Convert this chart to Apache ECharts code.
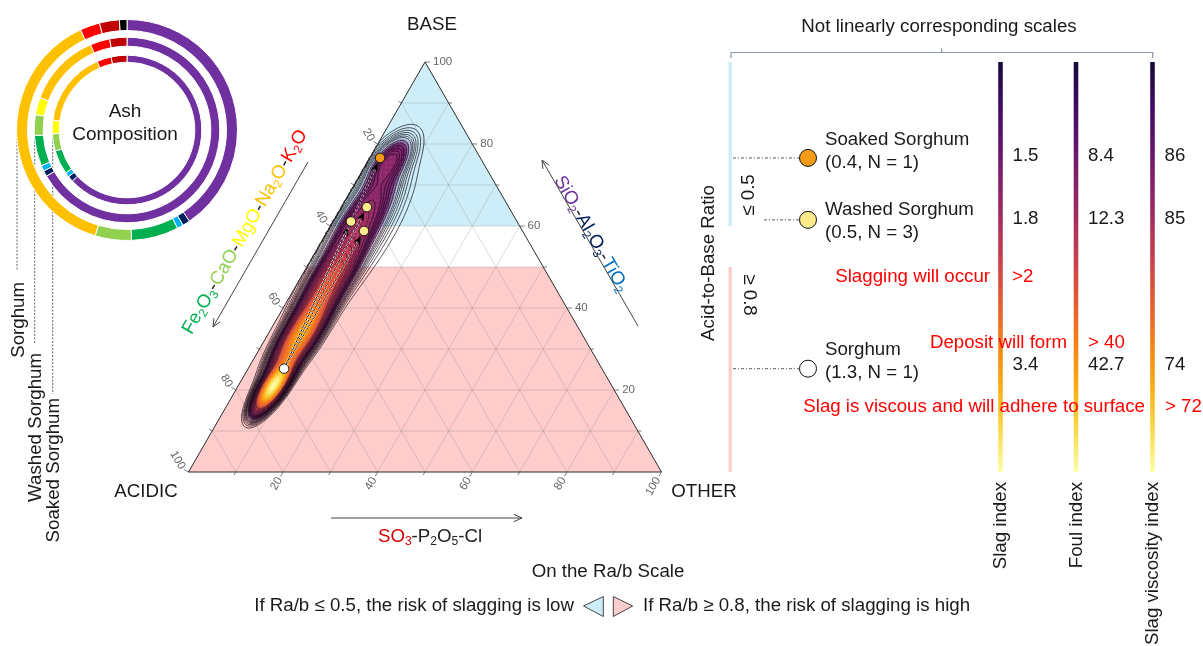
<!DOCTYPE html>
<html><head><meta charset="utf-8"><title>Ash composition ternary</title>
<script src="https://cdn.jsdelivr.net/npm/echarts@6.0.0/dist/echarts.min.js"></script>
<style>html,body{margin:0;padding:0;background:#fff;}#chart{width:1203px;height:646px;}</style>
</head><body><div id="chart"></div>
<script>
// ================= DATA =================
const ashComponents = ['SiO2','Al2O3','TiO2','Fe2O3','CaO','MgO','Na2O','K2O','SO3','P2O5/Cl'];
const ashSorghum = [40.4, 1.1, 0.9, 6.9, 5.3, 0.0, 38.4, 2.9, 2.9, 1.1];
const ashWashed  = [66.6, 1.0, 1.0, 5.3, 3.6, 3.0, 12.9, 3.4, 3.0, 0.0];
const ashSoaked  = [62.8, 1.2, 1.0, 5.2, 3.7, 2.9, 16.3, 3.1, 3.4, 0.0];
const ringLabels = ['Sorghum', 'Washed Sorghum', 'Soaked Sorghum'];

// ternary compositions: [ACIDIC, BASE, OTHER] (%)
const sorghumPoints = [[67.2, 25.2, 7.6]];
const washedPoints  = [[30.0, 64.6, 5.4], [35.1, 61.1, 3.8], [33.5, 58.8, 7.7]];
const soakedPoints  = [[21.2, 76.6, 2.2]];

const sampleNames = ['Soaked Sorghum', 'Washed Sorghum', 'Sorghum'];
const sampleRatio = ['0.4', '0.5', '1.3'];
const sampleN     = [1, 3, 1];
const slagIndex   = ['1.5', '1.8', '3.4'];
const foulIndex   = ['8.4', '12.3', '42.7'];
const viscIndex   = ['86', '85', '74'];
const indexNames  = ['Slag index', 'Foul index', 'Slag viscosity index'];
const thresholdText  = ['Slagging will occur', 'Deposit will form', 'Slag is viscous and will adhere to surface'];
const thresholdValue = ['>2', '> 40', '> 72'];

const ternaryMajorTicks = [20, 40, 60, 80, 100];
const ternaryMinorTicks = [10, 30, 50, 70, 90];
const ternaryGridValues = [10, 20, 30, 40, 50, 60, 70, 80, 90];

const lowRiskBaseRange  = [60, 100];  // Ra/b <= 0.5 zone (BASE %)
const highRiskBaseRange = [0, 50];    // Ra/b >= 0.8 zone (BASE %)

// kernel density estimate components (BASE %, OTHER %)
const kdeBaseCentre  = [21, 33, 46, 62, 76, 57];
const kdeOtherCentre = [7.4, 7.0, 6.5, 5.5, 4.5, 8.0];
const kdeBaseBw      = [3.4, 5.5, 6.5, 7.0, 4.0, 11.0];
const kdeOtherBw     = [1.4, 2.0, 2.3, 2.8, 2.4, 4.2];
const kdeWeight      = [1.0, 0.6, 0.3, 0.12, 0.1, 0.035];
const contourLevels  = [0.01, 0.015, 0.02, 0.025, 0.03, 0.035, 0.04, 0.05, 0.06, 0.07, 0.08, 0.09, 0.1, 0.12, 0.14, 0.16, 0.18, 0.2, 0.23, 0.26];

// ================= STYLE / LAYOUT =================
const FONT = '"Liberation Sans", Arial, Helvetica, sans-serif';
const TXT = '#1a1a1a';
const FS = 18.7;
const ashColors = ['#7030a0','#002060','#00b0f0','#00b050','#92d050','#ffff00','#ffc000','#ff0000','#c00000','#000000'];
const RING_CENTER = [127, 130];
const RING_RADII = [[99.5, 110.5], [83.8, 92.8], [67.8, 74.8]];
const groupColors = { sorghum: '#ffffff', washed: '#fbeb8c', soaked: '#f39a17' };
const legendColors = ['#f39a17', '#fbeb8c', '#ffffff'];
const LOW_FILL = '#cdeef8', HIGH_FILL = '#ffcccc';
const barX = [300.5, 376, 452.5];          // panel units (px from panel left)
const leaderStart = [33, 64, 33];
const nameDy = [-7, 2, -7.5];
const valueDy = [-2, -1, -4];

const S3 = Math.sqrt(3) / 2;
function tern(p) { const s = p[0] + p[1] + p[2]; const b = p[1] / s * 100, o = p[2] / s * 100; return [o + b / 2, b * S3]; }

const INFERNO = [[0,0,4],[22,11,57],[66,10,104],[106,23,110],[147,38,103],[188,55,84],[221,81,58],[243,120,25],[252,165,10],[246,215,70],[252,255,164]];
function inferno(t, a) {
  t = Math.max(0, Math.min(1, t));
  const f = t * 10, i = Math.min(9, Math.floor(f)), r = f - i;
  const c = INFERNO[i].map((v, k) => Math.round(v + (INFERNO[i + 1][k] - v) * r));
  return a == null ? 'rgb(' + c.join(',') + ')' : 'rgba(' + c.join(',') + ',' + a + ')';
}

// ---------- KDE evaluation ----------
const KS = 0.35, KX0 = 4, KX1 = 58, KY0 = 4, KY1 = 80;
const KNX = Math.round((KX1 - KX0) / KS) + 1, KNY = Math.round((KY1 - KY0) / KS) + 1;
const kde = new Float64Array(KNX * KNY);
let kdeMax = 0;
for (let j = 0; j < KNY; j++) for (let i = 0; i < KNX; i++) {
  const x = KX0 + i * KS, y = KY0 + j * KS;
  const b = y / S3, o = x - b / 2, a = 100 - b - o;
  let v = 0;
  if (b >= 0 && o >= 0 && a >= 0) {
    for (let k = 0; k < kdeWeight.length; k++) {
      const db = (b - kdeBaseCentre[k]) / kdeBaseBw[k], dd = (o - kdeOtherCentre[k]) / kdeOtherBw[k];
      v += kdeWeight[k] * Math.exp(-0.5 * (db * db + dd * dd));
    }
  }
  kde[j * KNX + i] = v; if (v > kdeMax) kdeMax = v;
}
for (let n = 0; n < kde.length; n++) kde[n] /= kdeMax;
const FILL_START = 0.04;
const densityCells = [];
for (let j = 0; j < KNY; j++) for (let i = 0; i < KNX; i++) {
  const t = kde[j * KNX + i];
  if (t > FILL_START) densityCells.push([KX0 + i * KS, KY0 + j * KS, t]);
}
const MS = {1:[[3,0]],2:[[0,1]],3:[[3,1]],4:[[1,2]],5:[[3,0],[1,2]],6:[[0,2]],7:[[3,2]],8:[[2,3]],9:[[0,2]],10:[[0,1],[2,3]],11:[[1,2]],12:[[1,3]],13:[[0,1]],14:[[0,3]]};
function marching(L) {
  const segs = [];
  for (let j = 0; j < KNY - 1; j++) for (let i = 0; i < KNX - 1; i++) {
    const v00 = kde[j*KNX+i], v10 = kde[j*KNX+i+1], v01 = kde[(j+1)*KNX+i], v11 = kde[(j+1)*KNX+i+1];
    const c = (v00 > L ? 1 : 0) | (v10 > L ? 2 : 0) | (v11 > L ? 4 : 0) | (v01 > L ? 8 : 0);
    if (c === 0 || c === 15) continue;
    const x = KX0 + i * KS, y = KY0 + j * KS;
    const e = [
      () => [x + KS * (L - v00) / (v10 - v00), y],
      () => [x + KS, y + KS * (L - v10) / (v11 - v10)],
      () => [x + KS * (L - v01) / (v11 - v01), y + KS],
      () => [x, y + KS * (L - v00) / (v01 - v00)]
    ];
    for (const pr of MS[c]) { const p = e[pr[0]](), q = e[pr[1]](); segs.push([p[0], p[1], q[0], q[1]]); }
  }
  return segs;
}
const contourSegs = contourLevels.map(marching);

// ================= RENDER HELPERS =================
function zone(range) { const b1 = range[0], b2 = range[1]; return [[100-b1,b1,0],[100-b2,b2,0],[0,b2,100-b2],[0,b1,100-b1]]; }

function renderTernaryBg(params, api) {
  const P = p => api.coord(tern(p));
  const ch = [];
  ch.push({ type: 'polygon', shape: { points: zone(lowRiskBaseRange).map(P) }, style: { fill: LOW_FILL } });
  ch.push({ type: 'polygon', shape: { points: zone(highRiskBaseRange).map(P) }, style: { fill: HIGH_FILL } });
  ternaryGridValues.forEach(v => {
    [[[v,100-v,0],[v,0,100-v]], [[100-v,v,0],[0,v,100-v]], [[100-v,0,v],[0,100-v,v]]].forEach(l => {
      const p = P(l[0]), q = P(l[1]);
      ch.push({ type: 'line', shape: { x1: p[0], y1: p[1], x2: q[0], y2: q[1] }, style: { stroke: 'rgba(110,110,110,0.3)', lineWidth: 0.8 } });
    });
  });
  return { type: 'group', children: ch };
}

function tickText(x, y, text, rot, align) {
  return { type: 'text', x, y, rotation: rot, style: { text, fill: '#666', fontSize: 11.5, fontFamily: FONT, align, textAlign: align, verticalAlign: 'middle', textVerticalAlign: 'middle' } };
}
function renderTernaryFrame(params, api) {
  const P = p => api.coord(tern(p));
  const ch = [];
  ch.push({ type: 'polygon', shape: { points: [P([100,0,0]), P([0,100,0]), P([0,0,100])] }, style: { fill: 'none', stroke: '#2b2b2b', lineWidth: 1 } });
  const dirs = { base: [1, 0], other: [-0.5, S3], acid: [-S3, -0.5] };
  const pts = { base: v => P([0, v, 100 - v]), other: v => P([100 - v, 0, v]), acid: v => P([v, 100 - v, 0]) };
  const rot = { base: 0, other: Math.PI / 3, acid: -Math.PI / 3 };
  const al = { base: 'left', other: 'right', acid: 'right' };
  Object.keys(dirs).forEach(k => {
    const d = dirs[k];
    ternaryMinorTicks.concat(ternaryMajorTicks).forEach(v => {
      const p = pts[k](v), major = ternaryMajorTicks.indexOf(v) >= 0, len = major ? 5 : 3.5;
      ch.push({ type: 'line', shape: { x1: p[0], y1: p[1], x2: p[0] + d[0] * len, y2: p[1] + d[1] * len }, style: { stroke: '#555', lineWidth: 0.8 } });
      if (major) {
        const off = k === 'base' ? 8 : 7;
        ch.push(tickText(p[0] + d[0] * off, p[1] + d[1] * off, String(v), rot[k], al[k]));
      }
    });
  });
  return { type: 'group', children: ch };
}

function renderDensity(params, api) {
  const x = api.value(0), y = api.value(1), t = api.value(2), h = KS / 2;
  const p0 = api.coord([x - h, y + h]), p1 = api.coord([x + h, y - h]);
  const alpha = Math.min(1, (t - FILL_START) / 0.03);
  return { type: 'rect', shape: { x: p0[0], y: p0[1], width: p1[0] - p0[0] + 0.4, height: p1[1] - p0[1] + 0.4 }, style: { fill: inferno(0.08 + 0.92 * Math.sqrt(t), alpha.toFixed(3)) } };
}

function renderContour(params, api) {
  const segs = contourSegs[params.dataIndex];
  const op = contourLevels[params.dataIndex] <= 0.12 ? 0.95 : 0.6;
  return { type: 'group', children: segs.map(s => {
    const p = api.coord([s[0], s[1]]), q = api.coord([s[2], s[3]]);
    return { type: 'line', shape: { x1: p[0], y1: p[1], x2: q[0], y2: q[1] }, style: { stroke: 'rgba(20,9,20,' + op + ')', lineWidth: 0.75 } };
  }) };
}

function renderArrow(params, api) {
  const s = api.coord(tern(sorghumPoints[0]));
  const t = api.coord([api.value(0), api.value(1)]);
  const dx = t[0] - s[0], dy = t[1] - s[1], len = Math.hypot(dx, dy), ux = dx / len, uy = dy / len, px = -uy, py = ux;
  const tip = [t[0] - ux * 6, t[1] - uy * 6];
  const back = [tip[0] - ux * 9, tip[1] - uy * 9];
  const notch = [tip[0] - ux * 6, tip[1] - uy * 6];
  const st = [s[0] + ux * 5, s[1] + uy * 5];
  return { type: 'group', children: [
    { type: 'line', shape: { x1: st[0], y1: st[1], x2: notch[0], y2: notch[1] }, style: { stroke: 'rgba(255,255,255,0.8)', lineWidth: 2.2, lineDash: [2, 2] } },
    { type: 'line', shape: { x1: st[0], y1: st[1], x2: notch[0], y2: notch[1] }, style: { stroke: '#000', lineWidth: 1, lineDash: [2, 2] } },
    { type: 'polygon', shape: { points: [tip, [back[0] + px * 3.6, back[1] + py * 3.6], notch, [back[0] - px * 3.6, back[1] - py * 3.6]] }, style: { fill: '#000' } }
  ] };
}

function renderRiskBars(params, api) {
  const r = params.dataIndex === 0 ? lowRiskBaseRange : highRiskBaseRange;
  const p0 = api.coord([28.5, r[1]]), p1 = api.coord([31.9, r[0]]);
  return { type: 'rect', shape: { x: p0[0], y: p0[1], width: p1[0] - p0[0], height: p1[1] - p0[1] }, style: { fill: params.dataIndex === 0 ? LOW_FILL : HIGH_FILL } };
}

const barGradient = new echarts.graphic.LinearGradient(0, 0, 0, 1,
  Array.from({ length: 11 }, (_, k) => ({ offset: k / 10, color: inferno(0.1 + 0.9 * k / 10) })));
function renderIndexBars(params, api) {
  const k = params.dataIndex;
  const p0 = api.coord([barX[k] - 2.3, 100]), p1 = api.coord([barX[k] + 2.3, 0]);
  return { type: 'rect', shape: { x: p0[0], y: p0[1], width: p1[0] - p0[0], height: p1[1] - p0[1] }, style: { fill: barGradient } };
}

const groupPoints = [soakedPoints, washedPoints, sorghumPoints];
const groupBase = groupPoints.map(g => g.reduce((s, p) => s + p[1] / (p[0] + p[1] + p[2]) * 100, 0) / g.length);
function textEl(x, y, text, o) {
  o = o || {};
  const al = o.align || 'left', va = o.va || 'middle';
  return { type: 'text', x, y, rotation: o.rotation || 0, style: Object.assign({ text, fill: o.fill || TXT, fontSize: o.fontSize || FS, fontFamily: FONT,
    align: al, textAlign: al, verticalAlign: va, textVerticalAlign: va }, o.style || {}) };
}
function renderGroups(params, api) {
  const i = params.dataIndex;
  const c = api.coord([api.value(0), api.value(1)]);
  const xs = api.coord([leaderStart[i], 0])[0];
  const ch = [];
  ch.push({ type: 'line', shape: { x1: xs, y1: c[1], x2: c[0] - 9, y2: c[1] }, style: { stroke: '#333', lineWidth: 0.8, lineDash: [3, 2, 1, 2] } });
  ch.push({ type: 'circle', shape: { cx: c[0], cy: c[1], r: 8.5 }, style: { fill: legendColors[i], stroke: '#111', lineWidth: 1 } });
  ch.push(textEl(c[0] + 17, c[1] + nameDy[i], sampleNames[i] + '\n(' + sampleRatio[i] + ', N = ' + sampleN[i] + ')', { style: { lineHeight: 23 } }));
  [slagIndex, foulIndex, viscIndex].forEach((arr, k) => {
    const x = api.coord([barX[k] + 12, 0])[0];
    ch.push(textEl(x, c[1] + valueDy[i], arr[i]));
  });
  return { type: 'group', children: ch };
}

// ================= GRAPHIC ANNOTATIONS =================
const G = [];
function gt(x, y, text, o) { const e = textEl(x, y, text, Object.assign({ align: 'center' }, o || {})); e.z = 100; e.silent = true; G.push(e); return e; }
function gline(pts, stroke, w, dash, z) { G.push({ type: 'polyline', z: z || 100, silent: true, shape: { points: pts }, style: { stroke, lineWidth: w, lineDash: dash || null, fill: 'none' } }); }
function garrow(from, to) {
  gline([from, to], '#444', 1);
  const dx = to[0] - from[0], dy = to[1] - from[1], L = Math.hypot(dx, dy), ux = dx / L, uy = dy / L;
  const a = 0.42, len = 9;
  const l = [to[0] - len * (ux * Math.cos(a) - uy * Math.sin(a)), to[1] - len * (uy * Math.cos(a) + ux * Math.sin(a))];
  const r = [to[0] - len * (ux * Math.cos(a) + uy * Math.sin(a)), to[1] - len * (uy * Math.cos(a) - ux * Math.sin(a))];
  gline([l, to, r], '#444', 1);
}

// ring centre text and ring labels
gt(125, 123.5, 'Ash\nComposition', { fontSize: 19, style: { lineHeight: 23 } });
const ringLineEnd = [270, 343, 394];
const ringTextTop = [282, 353, 398];
const ringTextX = [18.5, 36, 53.5];
ringLabels.forEach((name, k) => {
  const x = RING_CENTER[0] - (RING_RADII[k][1] - 0.5);
  gline([[x, RING_CENTER[1] + 1], [x, ringLineEnd[k]]], '#555', 0.9, [2, 1.5], 1);
  gt(ringTextX[k], ringTextTop[k], name, { rotation: Math.PI / 2, align: 'right' });
});

// ternary vertex labels
gt(432, 25, 'BASE');
gt(146, 492, 'ACIDIC');
gt(704, 492, 'OTHER');

// component formula labels
const MAIN = c => ({ fill: c, fontSize: FS, fontFamily: FONT, lineHeight: 24 });
const SUBS = c => ({ fill: c, fontSize: 12, fontFamily: FONT, lineHeight: 14, padding: [10, 0, 0, 0] });
gt(245, 232, '{g|Fe}{gs|2}{g|O}{gs|3}{k|-}{lg|CaO}{k|-}{y|MgO}{k|-}{o|Na}{os|2}{o|O}{k|-}{r|K}{rs|2}{r|O}', {
  rotation: Math.PI / 3, style: { rich: { g: MAIN('#00b050'), gs: SUBS('#00b050'), k: MAIN('#222'), lg: MAIN('#92d050'), y: MAIN('#ffff00'), o: MAIN('#ffc000'), os: SUBS('#ffc000'), r: MAIN('#ff0000'), rs: SUBS('#ff0000') } } });
garrow([308, 162], [213, 327]);
gt(591, 234, '{p|SiO}{ps|2}{k|-}{n|Al}{ns|2}{n|O}{ns|3}{k|-}{b|TiO}{bs|2}', {
  rotation: -Math.PI / 3, style: { rich: { p: MAIN('#7030a0'), ps: SUBS('#7030a0'), k: MAIN('#222'), n: MAIN('#002060'), ns: SUBS('#002060'), b: MAIN('#0070c0'), bs: SUBS('#0070c0') } } });
garrow([638, 326], [542, 160]);
gt(430, 537, '{r|SO}{rs|3}{k|-P}{ks|2}{k|O}{ks|5}{k|-Cl}', {
  style: { rich: { r: MAIN('#d20000'), rs: SUBS('#d20000'), k: MAIN('#222'), ks: SUBS('#222') } } });
garrow([331, 518], [522, 518]);

// right panel annotations
gt(939, 27, 'Not linearly corresponding scales');
gline([[731, 58], [731, 52.5], [1152.7, 52.5], [1152.7, 58]], '#8a97a8', 1.2);
gline([[941.7, 52.5], [941.7, 48.5]], '#8a97a8', 1.2);
gt(709, 263, 'Acid-to-Base Ratio', { rotation: Math.PI / 2 });
gt(749, 195, '≤ 0.5', { rotation: Math.PI / 2 });
gt(749, 295, '≥ 0.8', { rotation: -Math.PI / 2 });
const thrRight = [990, 1067, 1145], thrLeft = [1012, 1088, 1165], thrY = [277, 343, 407];
thresholdText.forEach((t, k) => {
  gt(thrRight[k], thrY[k], t, { align: 'right', fill: '#ff0000' });
  gt(thrLeft[k], thrY[k], thresholdValue[k], { align: 'left', fill: '#ff0000' });
});
indexNames.forEach((n, k) => gt(700 + barX[k] + 0.5, 482, n, { rotation: Math.PI / 2, align: 'right' }));

// bottom legend
gt(608, 572, 'On the Ra/b Scale');
gt(574, 606, 'If Ra/b ≤ 0.5, the risk of slagging is low', { align: 'right' });
gt(643, 606, 'If Ra/b ≥ 0.8, the risk of slagging is high', { align: 'left' });
G.push({ type: 'polygon', z: 100, silent: true, shape: { points: [[583.5, 606], [603.3, 596.5], [603.3, 616.5]] }, style: { fill: LOW_FILL, stroke: '#444', lineWidth: 1 } });
G.push({ type: 'polygon', z: 100, silent: true, shape: { points: [[632.7, 606], [613.3, 596.5], [613.3, 616.5]] }, style: { fill: HIGH_FILL, stroke: '#444', lineWidth: 1 } });

// ================= OPTION =================
function ring(values, k) {
  return {
    type: 'pie', center: RING_CENTER, radius: RING_RADII[k], startAngle: 90, clockwise: true, silent: true, z: 2,
    label: { show: false }, labelLine: { show: false }, emphasis: { disabled: true },
    itemStyle: { borderColor: '#ffffff', borderWidth: 1 },
    data: values.map((v, i) => ({ name: ashComponents[i], value: v, itemStyle: { color: ashColors[i] } })).filter(d => d.value > 0)
  };
}

const pointData = []
  .concat(sorghumPoints.map(p => ({ value: tern(p), itemStyle: { color: groupColors.sorghum } })))
  .concat(washedPoints.map(p => ({ value: tern(p), itemStyle: { color: groupColors.washed } })))
  .concat(soakedPoints.map(p => ({ value: tern(p), itemStyle: { color: groupColors.soaked } })));

const option = {
  backgroundColor: '#ffffff',
  animation: false,
  textStyle: { fontFamily: FONT },
  grid: [
    { left: 188.5, top: 62, width: 473, height: 410 },
    { left: 700, top: 62, width: 500, height: 410 }
  ],
  xAxis: [
    { gridIndex: 0, type: 'value', min: 0, max: 100, show: false },
    { gridIndex: 1, type: 'value', min: 0, max: 500, show: false }
  ],
  yAxis: [
    { gridIndex: 0, type: 'value', min: 0, max: 100 * S3, show: false },
    { gridIndex: 1, type: 'value', min: 0, max: 100, show: false }
  ],
  graphic: { elements: G },
  series: [
    ring(ashSorghum, 0), ring(ashWashed, 1), ring(ashSoaked, 2),
    { type: 'custom', xAxisIndex: 0, yAxisIndex: 0, z: 1, silent: true, renderItem: renderTernaryBg, data: [[0, 0]] },
    { type: 'custom', xAxisIndex: 0, yAxisIndex: 0, z: 2, silent: true, renderItem: renderDensity, data: densityCells },
    { type: 'custom', xAxisIndex: 0, yAxisIndex: 0, z: 3, silent: true, renderItem: renderContour, data: contourLevels.map((v, i) => [i, v]) },
    { type: 'custom', xAxisIndex: 0, yAxisIndex: 0, z: 4, silent: true, renderItem: renderTernaryFrame, data: [[0, 0]] },
    { type: 'custom', xAxisIndex: 0, yAxisIndex: 0, z: 5, silent: true, renderItem: renderArrow, data: washedPoints.concat(soakedPoints).map(tern) },
    { type: 'scatter', xAxisIndex: 0, yAxisIndex: 0, z: 6, silent: true, symbolSize: 9.5, itemStyle: { borderColor: '#111', borderWidth: 0.9, opacity: 1 }, data: pointData },
    { type: 'custom', xAxisIndex: 1, yAxisIndex: 1, z: 2, silent: true, renderItem: renderRiskBars, data: [[0, 0], [0, 0]] },
    { type: 'custom', xAxisIndex: 1, yAxisIndex: 1, z: 2, silent: true, renderItem: renderIndexBars, data: barX.map(x => [x, 0]) },
    { type: 'custom', xAxisIndex: 1, yAxisIndex: 1, z: 3, silent: true, renderItem: renderGroups, data: groupBase.map(b => [108, b]) }
  ]
};
const chart = echarts.init(document.getElementById('chart'), null, { renderer: 'canvas', width: 1203, height: 646 });
chart.setOption(option);
</script></body></html>
